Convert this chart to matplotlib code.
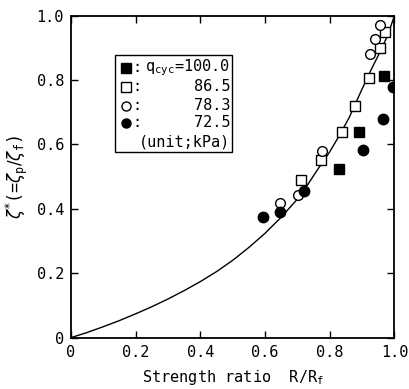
import numpy as np
import matplotlib
matplotlib.use("Agg")
import matplotlib.pyplot as plt
from matplotlib.patches import Rectangle

plt.rcParams['font.family'] = ['DejaVu Sans Mono']
plt.rcParams['mathtext.fontset'] = 'dejavusans'

# fitted curve
curve_x = [0.0, 0.05, 0.1, 0.15, 0.2, 0.25, 0.3, 0.35, 0.4, 0.45, 0.5, 0.55,
           0.6, 0.65, 0.7, 0.73, 0.76, 0.8, 0.83, 0.86, 0.9, 0.93, 0.95, 0.98, 1.0]
curve_y = [0.0, 0.016, 0.034, 0.053, 0.074, 0.096, 0.12, 0.146, 0.174, 0.205, 0.24, 0.28,
           0.324, 0.374, 0.43, 0.472, 0.518, 0.577, 0.628, 0.683, 0.772, 0.836, 0.876, 0.94, 1.0]

# q_cyc = 100.0 (filled squares)
fs_x = [0.83, 0.891, 0.969]
fs_y = [0.523, 0.64, 0.813]
# q_cyc = 86.5 (open squares)
os_x = [0.71, 0.773, 0.837, 0.878, 0.922, 0.956, 0.971]
os_y = [0.49, 0.552, 0.64, 0.72, 0.805, 0.90, 0.948]
# q_cyc = 78.3 (open circles)
oc_x = [0.645, 0.701, 0.775, 0.923, 0.94, 0.954]
oc_y = [0.419, 0.442, 0.578, 0.88, 0.926, 0.972]
# q_cyc = 72.5 (filled circles)
fc_x = [0.595, 0.645, 0.719, 0.903, 0.965, 0.997]
fc_y = [0.374, 0.391, 0.455, 0.583, 0.678, 0.779]

legend_values = ['q$_\\mathregular{cyc}$=100.0', '86.5', '78.3', '72.5']
legend_markers = [('s', 'k'), ('s', 'w'), ('o', 'w'), ('o', 'k')]

fig = plt.figure(figsize=(4.1, 3.89), dpi=100)
ax = fig.add_axes([0.173, 0.132, 0.789, 0.828])

ax.plot(curve_x, curve_y, color='k', lw=1.0, zorder=2)

ms = 7
ax.plot(fs_x, fs_y, 's', ms=ms, mfc='k', mec='k', zorder=3)
ax.plot(os_x, os_y, 's', ms=ms, mfc='w', mec='k', mew=1.0, zorder=3)
ax.plot(oc_x, oc_y, 'o', ms=ms, mfc='w', mec='k', mew=1.0, zorder=3)
ax.plot(fc_x, fc_y, 'o', ms=ms + 0.5, mfc='k', mec='k', zorder=3)

ax.set_xlim(0, 1.0)
ax.set_ylim(0, 1.0)
ticks = [0, 0.2, 0.4, 0.6, 0.8, 1.0]
tick_labels = ['0', '0.2', '0.4', '0.6', '0.8', '1.0']
ax.set_xticks(ticks)
ax.set_xticklabels(tick_labels)
ax.set_yticks(ticks)
ax.set_yticklabels(tick_labels)
ax.tick_params(direction='in', top=True, right=True, length=5, width=1,
               labelsize=11, pad=5)
for s in ax.spines.values():
    s.set_linewidth(1.3)

ax.set_xlabel('Strength ratio  R/R$_\\mathregular{f}$', fontsize=11, labelpad=6)
ax.set_ylabel('$\\zeta^{*}$(=$\\zeta_\\mathregular{p}/\\zeta_\\mathregular{f}$)',
              fontsize=12, labelpad=5)

# legend box, drawn by hand
ax.add_patch(Rectangle((0.136, 0.577), 0.362, 0.301, transform=ax.transAxes,
                       fill=False, lw=1.0, ec='k', zorder=4))
rows_y = [0.838, 0.779, 0.720, 0.667]
for i, (val, (mk, fc)) in enumerate(zip(legend_values, legend_markers)):
    ax.plot([0.169], [rows_y[i]], mk, ms=6.5, mfc=fc, mec='k',
            transform=ax.transAxes, clip_on=False, zorder=5)
    ax.text(0.19, rows_y[i], ':', transform=ax.transAxes, fontsize=11,
            va='center', ha='left')
    ax.text(0.492, rows_y[i], val, transform=ax.transAxes, fontsize=11,
            va='center', ha='right')
ax.text(0.492, 0.608, '(unit;kPa)', transform=ax.transAxes, fontsize=11,
        va='center', ha='right')

fig.savefig('out.png', dpi=100)
